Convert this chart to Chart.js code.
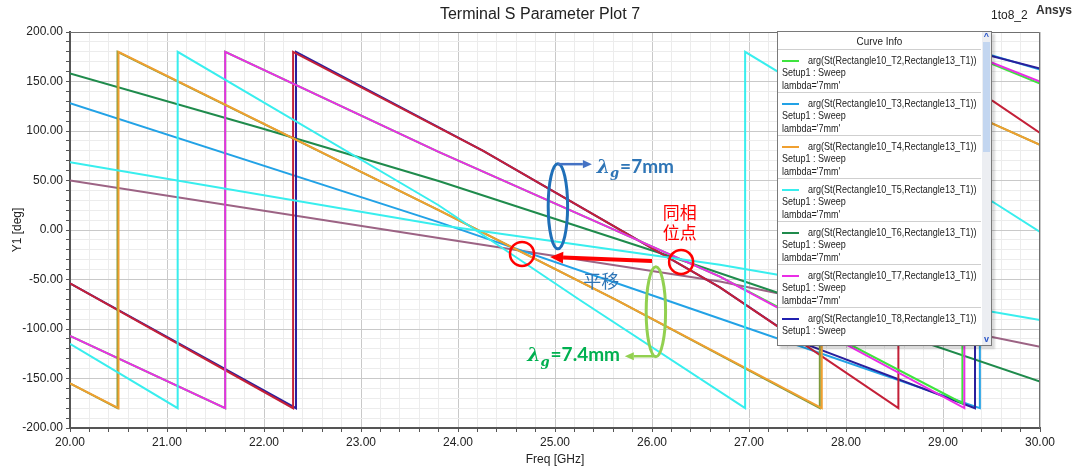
<!DOCTYPE html>
<html>
<head>
<meta charset="utf-8">
<title>Terminal S Parameter Plot 7</title>
<script src="https://cdn.jsdelivr.net/npm/chart.js@4.4.1/dist/chart.umd.min.js"></script>
<style>
  html, body { margin: 0; padding: 0; background: #fff; }
  #wrap { position: relative; width: 1080px; height: 470px; overflow: hidden; font-family: 'Liberation Sans', Arial, sans-serif; color: #222; }
  #plot { position: absolute; left: 0; top: 0; }
  #title { position: absolute; left: 0; top: 5px; width: 1080px; text-align: center; font-size: 16px; }
  #proj { position: absolute; left: 991px; top: 8px; font-size: 12px; }
  #brand { position: absolute; left: 1036px; top: 3px; font-size: 12px; font-weight: bold; color: #333; }
  #curveInfo { position: absolute; left: 777px; top: 31px; width: 213px; height: 313px; background: #fff;
    border: 1px solid #7a7a7a; overflow: hidden; box-shadow: 3px 3px 2px rgba(0,0,0,0.15);
    font-family: 'Liberation Sans', Arial, sans-serif; font-size: 11px; }
  #curveInfo .hdr { height: 17px; line-height: 18px; text-align: center; border-bottom: 1px solid #cfcfcf; margin-right: 10px; }
  #entries { height: 288px; overflow: hidden; }
  #curveInfo .ent { height: 38px; padding: 4px 0 0 4px; border-bottom: 1px solid #cfcfcf; margin-right: 10px;
    line-height: 12.3px; white-space: nowrap; overflow: hidden; }
  #curveInfo .txt { display: inline-block; transform: scaleX(0.82); transform-origin: 0 50%; }
  #curveInfo .hdr .txt { transform: scaleX(0.9); transform-origin: 50% 50%; }
  #curveInfo .swatch { display: inline-block; width: 17px; height: 2px; vertical-align: middle; margin-right: 9px; }
  #curveInfo .bar { position: absolute; right: 0; top: 0; width: 9px; height: 100%; background: #eceef2; }
  #curveInfo .thumb { position: absolute; left: 1px; top: 10px; width: 7px; height: 110px; background: #c3d6f0; }
  #curveInfo .arr { position: absolute; left: 0; width: 9px; text-align: center; font-size: 9px; font-weight: bold; color: #2a55c8; line-height: 9px; }
</style>
</head>
<body>
<div id="wrap">
  <canvas id="plot" width="1080" height="470"></canvas>
  <div id="title">Terminal S Parameter Plot 7</div>
  <div id="proj">1to8_2</div>
  <div id="brand">Ansys</div>
  <div id="curveInfo">
    <div class="hdr"><span class="txt">Curve Info</span></div>
    <div id="entries"></div>
    <div class="bar"><div class="arr" style="top:0">^</div><div class="thumb"></div><div class="arr" style="bottom:1px">v</div></div>
  </div>
</div>
<script>
// ---------- data (freq in GHz, phase in deg) ----------
// group meeting at the right in-phase point
const fDkGreen = [20, 22, 23.8, 26.2, 30];
const pDkGreen = [158, 102, 49.5, -27, -153];

const fSlowCyan = [20, 23.8, 26.7, 30];
const pSlowCyan = [68.5, 5, -35, -91];

const fMagenta = [20, 21.6, 21.6, 23.8, 26.7, 29.22, 29.22, 30];
const pMagenta = [-107, -180, 180, 79, -47, -180, 180, 150];

const fLime = [20, 21.6, 21.6, 23.8, 26.7, 29.2, 29.2, 30];
const pLime = [-107, -180, 180, 79, -47, -175, 180, 148];

const fRed = [20, 22.3, 22.3, 24.26, 26.7, 28.54, 28.54, 29.52, 30];
const pRed = [-54, -180, 180, 80, -58, -180, 180, 130, 98];

const fNavy = [20, 22.33, 22.33, 24.26, 26.7, 27.55, 29.33, 29.33, 30];
const pNavy = [-54, -180, 180, 80, -58, -114, -180, 180, 163];

// group meeting at the left in-phase point
const fSkyBlue = [20, 23.8, 26.15, 29.38, 29.38, 30];
const pSkyBlue = [128, 8, -71, -180, 180, 162];

const fMauve = [20, 23.8, 26.7, 30];
const pMauve = [50, -8, -52, -118];

const fOrange = [20, 20.5, 20.5, 23.8, 25.64, 27.75, 27.75, 29.5, 30];
const pOrange = [-155, -180, 180, 20, -71, -180, 180, 108, 86];

const fOlive = [20, 20.49, 20.49, 23.8, 25.64, 27.73, 27.73, 29.5, 30];
const pOlive = [-155, -180, 180, 20, -71, -180, 180, 108, 86];

const fFastCyan = [20, 21.11, 21.11, 23.8, 25.26, 26.96, 26.96, 29.52, 30];
const pFastCyan = [-115, -180, 180, 25, -71, -180, 180, 28, -2];

// legend (Curve Info) entries
const legendPorts = ['T2', 'T3', 'T4', 'T5', 'T6', 'T7', 'T8'];
const legendColors = ['#3ee43e', '#22a2e6', '#f0a030', '#38eeee', '#1f8b4c', '#ea2ee6', '#2020b0'];

// ---------- helpers ----------
const pts = (fx, fy) => fx.map((v, i) => ({ x: v, y: fy[i] }));
const isMajor = (v, step) => Math.abs(v / step - Math.round(v / step)) < 1e-6;

function line(fx, fy, color) {
  return { data: pts(fx, fy), borderColor: color, borderWidth: 2, pointRadius: 0, tension: 0, fill: false };
}

// first entry is drawn on top
const datasets = [
  line(fFastCyan, pFastCyan, '#38eeee'),
  line(fSlowCyan, pSlowCyan, '#38eeee'),
  line(fOrange, pOrange, '#f0a030'),
  line(fOlive, pOlive, '#7d9a3a'),
  line(fMagenta, pMagenta, '#ea2ee6'),
  line(fLime, pLime, '#3ee43e'),
  line(fRed, pRed, '#c42038'),
  line(fNavy, pNavy, '#2a1f9c'),
  line(fDkGreen, pDkGreen, '#1f8b4c'),
  line(fSkyBlue, pSkyBlue, '#22a2e6'),
  line(fMauve, pMauve, '#9c6384')
];

// legend box
const entriesEl = document.getElementById('entries');
legendPorts.forEach((p, i) => {
  const d = document.createElement('div');
  d.className = 'ent';
  d.innerHTML = `<span class="swatch" style="background:${legendColors[i]}"></span>` +
    `<span class="txt">arg(St(Rectangle10_${p},Rectangle13_T1))</span><br>` +
    `<span class="txt">Setup1 : Sweep</span><br><span class="txt">lambda='7mm'</span>`;
  entriesEl.appendChild(d);
});

// ---------- drawing helpers for the hand-made marks ----------
function arrow(ctx, x1, y1, x2, y2, color, w, head) {
  const a = Math.atan2(y2 - y1, x2 - x1);
  const bx = x2 - head * Math.cos(a), by = y2 - head * Math.sin(a);
  ctx.strokeStyle = color; ctx.fillStyle = color; ctx.lineWidth = w;
  ctx.beginPath(); ctx.moveTo(x1, y1); ctx.lineTo(bx, by); ctx.stroke();
  ctx.beginPath(); ctx.moveTo(x2, y2);
  ctx.lineTo(bx + head * 0.45 * Math.sin(a), by - head * 0.45 * Math.cos(a));
  ctx.lineTo(bx - head * 0.45 * Math.sin(a), by + head * 0.45 * Math.cos(a));
  ctx.closePath(); ctx.fill();
}

function lambdaLabel(ctx, x, yMid, rest, color, alignRight) {
  const size = 19;
  const fLam = `bold italic ${size}px 'DejaVu Serif', 'Liberation Serif', serif`;
  const fSub = `bold italic ${Math.round(size * 0.7)}px 'DejaVu Serif', 'Liberation Serif', serif`;
  const fRest = `bold ${size}px Lato, 'Liberation Sans', sans-serif`;
  ctx.font = fLam; const w1 = ctx.measureText('λ').width;
  ctx.font = fSub; const w2 = ctx.measureText('g').width;
  ctx.font = fRest; const w3 = ctx.measureText(rest).width;
  const x0 = alignRight ? x - (w1 + w2 + 1 + w3) : x;
  const base = yMid + size * 0.35;
  ctx.textBaseline = 'alphabetic'; ctx.textAlign = 'left';
  ctx.fillStyle = color;
  ctx.font = fLam; ctx.fillText('λ', x0, base);
  ctx.font = fSub; ctx.fillText('g', x0 + w1, base + size * 0.22);
  ctx.font = fRest; ctx.fillText(rest, x0 + w1 + w2 + 1, base);
}

const frame = {
  id: 'frame',
  afterDatasetsDraw(chart) {
    const { ctx, chartArea: a } = chart;
    ctx.save();
    ctx.strokeStyle = '#707070'; ctx.lineWidth = 1;
    ctx.beginPath();
    ctx.moveTo(a.left, a.top + 0.5); ctx.lineTo(a.right - 0.5, a.top + 0.5); ctx.lineTo(a.right - 0.5, a.bottom);
    ctx.stroke();
    ctx.restore();
  }
};

const notes = {
  id: 'notes',
  afterDraw(chart) {
    const { ctx, scales: { x, y } } = chart;
    const px = v => x.getPixelForValue(v), py = v => y.getPixelForValue(v);
    ctx.save();
    // lambda_g = 7mm marker
    ctx.strokeStyle = '#1f6fb8'; ctx.lineWidth = 3;
    ctx.beginPath();
    ctx.ellipse(px(25.03), py(24), px(25.13) - px(25.03), py(0) - py(43), 0, 0, Math.PI * 2);
    ctx.stroke();
    arrow(ctx, px(25.03), py(66.5), px(25.38), py(66.5), '#4472c4', 2.5, 9);
    lambdaLabel(ctx, px(25.43), py(64.5), '=7mm', '#2e75b6', false);

    // lambda_g = 7.4mm marker
    ctx.strokeStyle = '#92d050'; ctx.lineWidth = 3;
    ctx.beginPath();
    ctx.ellipse(px(26.04), py(-82.5), px(26.14) - px(26.04), py(-82.5) - py(-37), 0, 0, Math.PI * 2);
    ctx.stroke();
    arrow(ctx, px(26.04), py(-127.5), px(25.72), py(-127.5), '#92d050', 2.5, 9);
    lambdaLabel(ctx, px(25.67), py(-126), '=7.4mm', '#00b050', true);

    // in-phase points and shift arrow
    ctx.strokeStyle = '#ff0000'; ctx.lineWidth = 2.5;
    [[24.66, -24.2], [26.3, -32.3]].forEach(([gx, gy]) => {
      ctx.beginPath(); ctx.arc(px(gx), py(gy), 12, 0, Math.PI * 2); ctx.stroke();
    });
    arrow(ctx, px(26.0), py(-31.3), px(24.95), py(-27.3), '#ff0000', 4, 13);

    ctx.textBaseline = 'middle'; ctx.textAlign = 'left';
    ctx.font = "17px 'Noto Sans CJK SC', sans-serif";
    ctx.fillStyle = '#ff0000';
    ctx.fillText('同相', px(26.11), py(18));
    ctx.fillText('位点', px(26.11), py(-3));
    ctx.fillStyle = '#2e75b6';
    ctx.font = "18px 'Noto Sans CJK SC', sans-serif";
    ctx.fillText('平移', px(25.29), py(-52));
    ctx.restore();
  }
};

Chart.defaults.font.family = "'Liberation Sans', Arial, sans-serif";
Chart.defaults.font.size = 12;
Chart.defaults.color = '#222';

new Chart(document.getElementById('plot'), {
  type: 'line',
  data: { datasets },
  options: {
    responsive: false,
    animation: false,
    layout: { padding: { top: 32, right: 40, left: 0, bottom: 0 } },
    plugins: { legend: { display: false }, tooltip: { enabled: false } },
    scales: {
      x: {
        type: 'linear', min: 20, max: 30,
        ticks: { stepSize: 0.2, autoSkip: false, maxRotation: 0, padding: 3,
          callback: v => isMajor(v, 1) ? v.toFixed(2) : '' },
        grid: { color: c => isMajor(c.tick.value, 1) ? '#c9c9c9' : '#ececec', tickColor: '#555', tickLength: 4 },
        border: { color: '#555', width: 2 },
        title: { display: true, text: 'Freq [GHz]', padding: { top: 0, bottom: 3 } },
        afterFit: s => { s.height = 42; }
      },
      y: {
        min: -200, max: 200,
        ticks: { stepSize: 10, autoSkip: false, padding: 3,
          callback: v => isMajor(v, 50) ? v.toFixed(2) : '' },
        grid: { color: c => isMajor(c.tick.value, 50) ? '#c9c9c9' : '#ececec', tickColor: '#555', tickLength: 4 },
        border: { color: '#555', width: 2 },
        title: { display: true, text: 'Y1 [deg]', padding: { top: 10, bottom: 0 } },
        afterFit: s => { s.width = 70; }
      }
    }
  },
  plugins: [frame, notes]
});
</script>
</body>
</html>
